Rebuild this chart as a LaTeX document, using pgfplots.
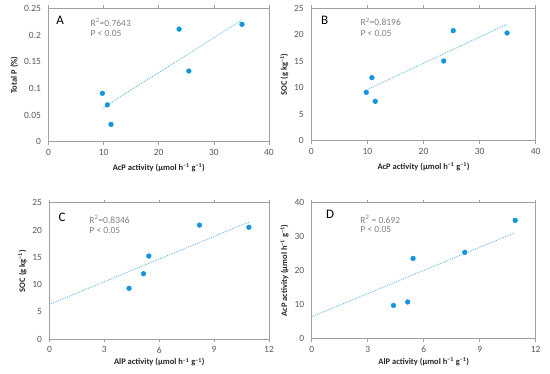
\documentclass[border=0pt]{standalone}
\usepackage{fontspec}
\setmainfont{Carlito}
\usepackage{pgfplots}
\pgfplotsset{compat=1.18}
\definecolor{tickgray}{RGB}{89,89,89}
\definecolor{rgray}{RGB}{128,128,128}
\definecolor{framegray}{RGB}{160,160,160}
\definecolor{ptblue}{RGB}{20,150,222}
\definecolor{trblue}{RGB}{95,178,230}
\definecolor{labdark}{RGB}{38,38,38}
\pgfplotsset{
  panel/.style={
    scale only axis,
    axis line style={framegray, line width=0.8pt},
    tick label style={font=\fontsize{9.5}{11}\selectfont, text=tickgray},
    /pgf/number format/assume math mode=true,
    scaled ticks=false,
    xtick align=outside,
    x tick style={framegray, line width=0.6pt},
    major tick length=3pt,
    y tick style={draw=none},
    yticklabel style={xshift=-4pt},
    xticklabel style={yshift=-1pt},
    label style={font=\bfseries\fontsize{8.5}{10}\selectfont, text=labdark},
    clip=false,
  },
  pts/.style={only marks, mark=*, mark size=2.4pt, color=ptblue},
  trend/.style={no marks, color=trblue, line width=0.9pt, dash pattern=on 0.8pt off 1.1pt},
}
\newcommand{\unitlab}{(µmol h\textsuperscript{−1} g\textsuperscript{−1})}
\begin{document}
\begin{tikzpicture}
\path[use as bounding box] (0pt,0pt) rectangle (550pt,373pt);
% Panel A
\begin{axis}[panel, at={(48.5pt,231.3pt)}, anchor=south west, width=220.5pt, height=133.4pt,
  xmin=0, xmax=40, ymin=0, ymax=0.25, xtick={0,10,...,40}, ytick={0,0.05,0.1,0.15,0.2,0.25},
  yticklabel style={/pgf/number format/fixed, /pgf/number format/precision=2},
  xlabel={AcP activity \unitlab}, ylabel={Total P (\%)},
  xlabel style={yshift=-1pt}, ylabel style={yshift=-1pt}]
\addplot[trend] coordinates {(9.77,0.063) (35.1,0.228)};
\addplot[pts] coordinates {(9.77,0.0906) (10.68,0.069) (11.34,0.0325) (23.7,0.211) (25.46,0.1325) (35.1,0.220)};
\node[anchor=west, font=\fontsize{13}{14}\selectfont] at (rel axis cs:0.02,0.91) {A};
\node[anchor=west, font=\fontsize{9.5}{11}\selectfont, text=rgray] at (rel axis cs:0.175,0.897) {R\textsuperscript{2}=0.7643};
\node[anchor=west, font=\fontsize{9.5}{11}\selectfont, text=rgray] at (rel axis cs:0.175,0.815) {P < 0.05};
\end{axis}
% Panel B
\begin{axis}[panel, at={(311.3pt,232.3pt)}, anchor=south west, width=224.4pt, height=132.4pt,
  xmin=0, xmax=40, ymin=0, ymax=25, xtick={0,10,...,40}, ytick={0,5,...,25},
  xlabel={AcP activity \unitlab}, ylabel={SOC (g kg\textsuperscript{−1})},
  xlabel style={yshift=-1pt}, ylabel style={yshift=-1pt}]
\addplot[trend] coordinates {(9.79,9.57) (34.9,22.0)};
\addplot[pts] coordinates {(9.79,9.13) (10.8,11.9) (11.4,7.43) (23.6,15.05) (25.3,20.78) (34.9,20.34)};
\node[anchor=west, font=\fontsize{13}{14}\selectfont] at (rel axis cs:0.028,0.91) {B};
\node[anchor=west, font=\fontsize{9.5}{11}\selectfont, text=rgray] at (rel axis cs:0.204,0.897) {R\textsuperscript{2}=0.8196};
\node[anchor=west, font=\fontsize{9.5}{11}\selectfont, text=rgray] at (rel axis cs:0.204,0.813) {P < 0.05};
\end{axis}
% Panel C
\begin{axis}[panel, at={(49.5pt,33.7pt)}, anchor=south west, width=219.5pt, height=136.6pt,
  xmin=0, xmax=12, ymin=0, ymax=25, xtick={0,3,...,12}, ytick={0,5,...,25},
  xlabel={AlP activity \unitlab}, ylabel={SOC (g kg\textsuperscript{−1})},
  xlabel style={yshift=2pt}, ylabel style={yshift=-1pt}]
\addplot[trend] coordinates {(0,6.4) (10.9,21.46)};
\addplot[pts] coordinates {(4.35,9.33) (5.14,12.0) (5.43,15.24) (8.2,20.9) (10.9,20.5)};
\node[anchor=west, font=\fontsize{13}{14}\selectfont] at (rel axis cs:0.025,0.895) {C};
\node[anchor=west, font=\fontsize{9.5}{11}\selectfont, text=rgray] at (rel axis cs:0.166,0.88) {R\textsuperscript{2}=0.8346};
\node[anchor=west, font=\fontsize{9.5}{11}\selectfont, text=rgray] at (rel axis cs:0.166,0.80) {P < 0.05};
\end{axis}
% Panel D
\begin{axis}[panel, at={(311.7pt,34.3pt)}, anchor=south west, width=224pt, height=136pt,
  xmin=0, xmax=12, ymin=0, ymax=40, xtick={0,3,...,12}, ytick={0,10,...,40},
  xlabel={AlP activity \unitlab}, ylabel={AcP activity \unitlab},
  xlabel style={yshift=2pt}, ylabel style={yshift=-1pt}]
\addplot[trend] coordinates {(0,6.47) (10.9,31.2)};
\addplot[pts] coordinates {(4.38,9.8) (5.14,10.8) (5.43,23.6) (8.2,25.4) (10.9,34.8)};
\node[anchor=west, font=\fontsize{13}{14}\selectfont] at (rel axis cs:0.049,0.917) {D};
\node[anchor=west, font=\fontsize{9.5}{11}\selectfont, text=rgray] at (rel axis cs:0.202,0.88) {R\textsuperscript{2} = 0.692};
\node[anchor=west, font=\fontsize{9.5}{11}\selectfont, text=rgray] at (rel axis cs:0.202,0.80) {P < 0.05};
\end{axis}
\end{tikzpicture}
\end{document}
